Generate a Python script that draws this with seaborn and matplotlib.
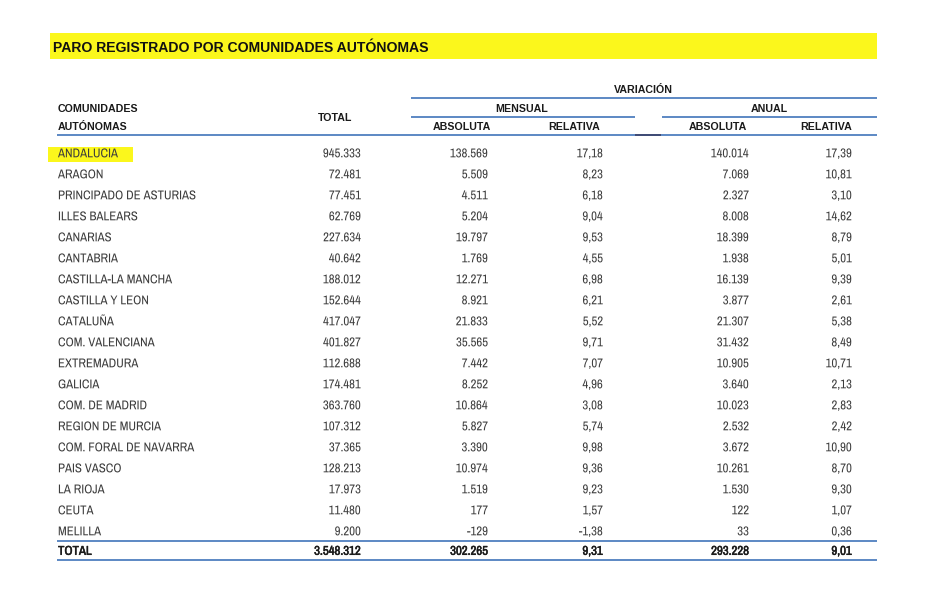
import matplotlib
matplotlib.use("Agg")
import matplotlib.pyplot as plt
import matplotlib.patheffects as pe
import seaborn as sns
from matplotlib import font_manager

# table values (Spanish number format kept as text)
comunidades = [
    "ANDALUCIA", "ARAGON", "PRINCIPADO DE ASTURIAS", "ILLES BALEARS", "CANARIAS",
    "CANTABRIA", "CASTILLA-LA MANCHA", "CASTILLA Y LEON", "CATALUÑA",
    "COM. VALENCIANA", "EXTREMADURA", "GALICIA", "COM. DE MADRID",
    "REGION DE MURCIA", "COM. FORAL DE NAVARRA", "PAIS VASCO", "LA RIOJA",
    "CEUTA", "MELILLA",
]
total = ["945.333", "72.481", "77.451", "62.769", "227.634", "40.642", "188.012",
         "152.644", "417.047", "401.827", "112.688", "174.481", "363.760",
         "107.312", "37.365", "128.213", "17.973", "11.480", "9.200"]
mens_abs = ["138.569", "5.509", "4.511", "5.204", "19.797", "1.769", "12.271",
            "8.921", "21.833", "35.565", "7.442", "8.252", "10.864", "5.827",
            "3.390", "10.974", "1.519", "177", "-129"]
mens_rel = ["17,18", "8,23", "6,18", "9,04", "9,53", "4,55", "6,98", "6,21",
            "5,52", "9,71", "7,07", "4,96", "3,08", "5,74", "9,98", "9,36",
            "9,23", "1,57", "-1,38"]
anual_abs = ["140.014", "7.069", "2.327", "8.008", "18.399", "1.938", "16.139",
             "3.877", "21.307", "31.432", "10.905", "3.640", "10.023", "2.532",
             "3.672", "10.261", "1.530", "122", "33"]
anual_rel = ["17,39", "10,81", "3,10", "14,62", "8,79", "5,01", "9,39", "2,61",
             "5,38", "8,49", "10,71", "2,13", "2,83", "2,42", "10,90", "8,70",
             "9,30", "1,07", "0,36"]
fila_total = ["TOTAL", "3.548.312", "302.265", "9,31", "293.228", "9,01"]

titulo = "PARO REGISTRADO POR COMUNIDADES AUTÓNOMAS"
destacada = "ANDALUCIA"

sns.set_theme(style="white")
names = {f.name for f in font_manager.fontManager.ttflist}
narrow = [f for f in ["Archivo Narrow", "PT Sans Narrow", "Liberation Sans"] if f in names][:1] + ["DejaVu Sans"]
plt.rcParams["font.family"] = ["Liberation Sans", "DejaVu Sans"]

W, H = 950, 599
fig = plt.figure(figsize=(W / 100, H / 100), dpi=100)
ax = fig.add_axes([0, 0, 1, 1])
ax.set_xlim(0, W)
ax.set_ylim(H, 0)
ax.axis("off")

blue = "#4f7fbf"
txt = "#3d3d3d"
yellow = "#fbf71c"

# title bar
ax.add_patch(plt.Rectangle((50, 33), 827, 26, color=yellow, lw=0))
ax.text(53, 46, titulo, fontsize=10.1, fontweight="bold", color="#111111",
        va="center_baseline", ha="left")

# header
hdr = dict(fontsize=7.7, fontweight="bold", color="#1a1a1a", va="center_baseline")
ax.text(643, 89, "VARIACIÓN", ha="center", **hdr)
ax.hlines(98, 411, 877, color=blue, lw=1.3)
ax.text(522, 107.5, "MENSUAL", ha="center", **hdr)
ax.text(769, 107.5, "ANUAL", ha="center", **hdr)
ax.hlines(117, 411, 635, color=blue, lw=1.3)
ax.hlines(117, 662, 877, color=blue, lw=1.3)
ax.text(58, 107.5, "COMUNIDADES", ha="left", **hdr)
ax.text(58, 126.5, "AUTÓNOMAS", ha="left", **hdr)
ax.text(335, 117, "TOTAL", ha="center", **hdr)
for xc, lab in zip([462, 574, 718, 826], ["ABSOLUTA", "RELATIVA", "ABSOLUTA", "RELATIVA"]):
    ax.text(xc, 126.5, lab, ha="center", **hdr)
ax.hlines(135, 57, 877, color=blue, lw=1.3)
ax.hlines(135, 635, 661, color="#3d466e", lw=1.3)

# body (drawn as paths so every cell shares the same baseline)
right_edges = [361, 488, 603, 749, 852]
cols = [total, mens_abs, mens_rel, anual_abs, anual_rel]
body = dict(fontsize=9.2, family=narrow, color=txt, va="baseline",
            path_effects=[pe.Normal()])
y0, step, base = 153, 21, 4.3
for i, name in enumerate(comunidades):
    y = y0 + i * step
    if name == destacada:
        ax.add_patch(plt.Rectangle((48, y - 6), 85, 15, color=yellow, lw=0))
    ax.text(58, y + base, name, ha="left", **body)
    for xr, col in zip(right_edges, cols):
        ax.text(xr, y + base, col[i], ha="right", **body)

yl = y0 + (len(comunidades) - 1) * step
ax.hlines(yl + 9.5, 57, 877, color=blue, lw=1.3)
yt = yl + 19.5
bold = dict(body, color="#1a1a1a",
            path_effects=[pe.withStroke(linewidth=0.35, foreground="#1a1a1a")])
ax.text(58, yt + base, fila_total[0], ha="left", **bold)
for xr, v in zip(right_edges, fila_total[1:]):
    ax.text(xr, yt + base, v, ha="right", **bold)
ax.hlines(yt + 9.5, 57, 877, color=blue, lw=1.3)

fig.savefig("out.png", dpi=100, facecolor="white")
